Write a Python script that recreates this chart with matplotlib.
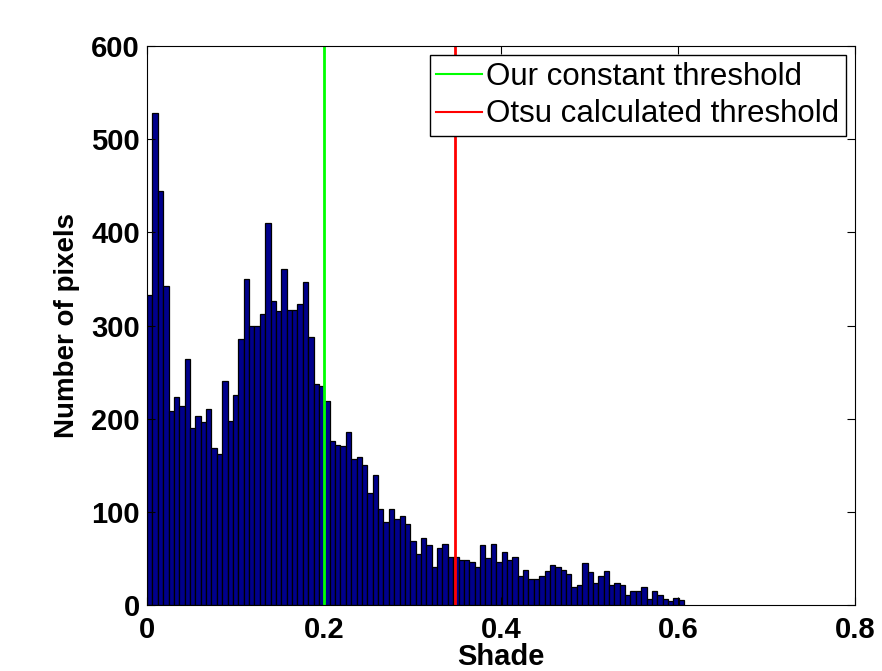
import numpy as np
import matplotlib
matplotlib.use("Agg")
import matplotlib.pyplot as plt

counts = [333, 528, 444, 342, 208, 223, 214, 264, 190, 203,
          196, 210, 169, 162, 240, 198, 225, 285, 350, 300,
          299, 312, 410, 326, 316, 361, 317, 317, 323, 347,
          288, 237, 235, 219, 176, 172, 171, 186, 157, 159,
          150, 120, 139, 103, 89, 103, 92, 96, 87, 69,
          55, 72, 64, 41, 61, 65, 51, 51, 48, 48,
          46, 41, 64, 50, 65, 46, 57, 48, 51, 31,
          38, 28, 28, 31, 36, 43, 41, 38, 33, 19,
          21, 45, 35, 24, 31, 36, 21, 24, 21, 11,
          15, 15, 19, 6, 15, 11, 6, 4, 8, 5]
shade_max = 0.607
constant_threshold = 0.2
otsu_threshold = 0.348
xticks = [0, 0.2, 0.4, 0.6, 0.8]
xticklabels = ["0", "0.2", "0.4", "0.6", "0.8"]
yticks = [0, 100, 200, 300, 400, 500, 600]

plt.rcParams['font.family'] = ['Liberation Sans', 'DejaVu Sans']

fig = plt.figure(figsize=(8.82, 6.71), dpi=100)
ax = fig.add_axes([0.1667, 0.0984, 0.8027, 0.8330])

n = len(counts)
w = shade_max / n
lefts = np.arange(n) * w
ax.bar(lefts, counts, width=w, align='edge', color=(0, 0, 0.55),
       edgecolor='black', linewidth=0.9)

ax.axvline(constant_threshold, color=(0, 1, 0), linewidth=2,
           label='Our constant threshold')
ax.axvline(otsu_threshold, color=(1, 0, 0), linewidth=2,
           label='Otsu calculated threshold')

ax.set_xlim(0, 0.8)
ax.set_ylim(0, 600)
ax.set_xticks(xticks)
ax.set_xticklabels(xticklabels)
ax.set_yticks(yticks)
ax.tick_params(direction='in', top=True, right=True, length=6,
               labelsize=21, pad=5)
ax.tick_params(axis='x', pad=8)
for lab in ax.get_xticklabels() + ax.get_yticklabels():
    lab.set_fontweight('bold')
ax.set_xlabel('Shade', fontsize=21, fontweight='bold', labelpad=-1)
ax.set_ylabel('Number of pixels', fontsize=20, fontweight='bold', labelpad=8)

leg = ax.legend(loc='upper right', fontsize=22.5, frameon=True, fancybox=False,
                edgecolor='black', framealpha=1, handlelength=1.45,
                handletextpad=0.15, borderaxespad=0.3, borderpad=0.2,
                labelspacing=0.25)
leg.get_frame().set_linewidth(1.0)
for ln in leg.get_lines():
    ln.set_linewidth(1.5)

fig.savefig('out.png', dpi=100)
